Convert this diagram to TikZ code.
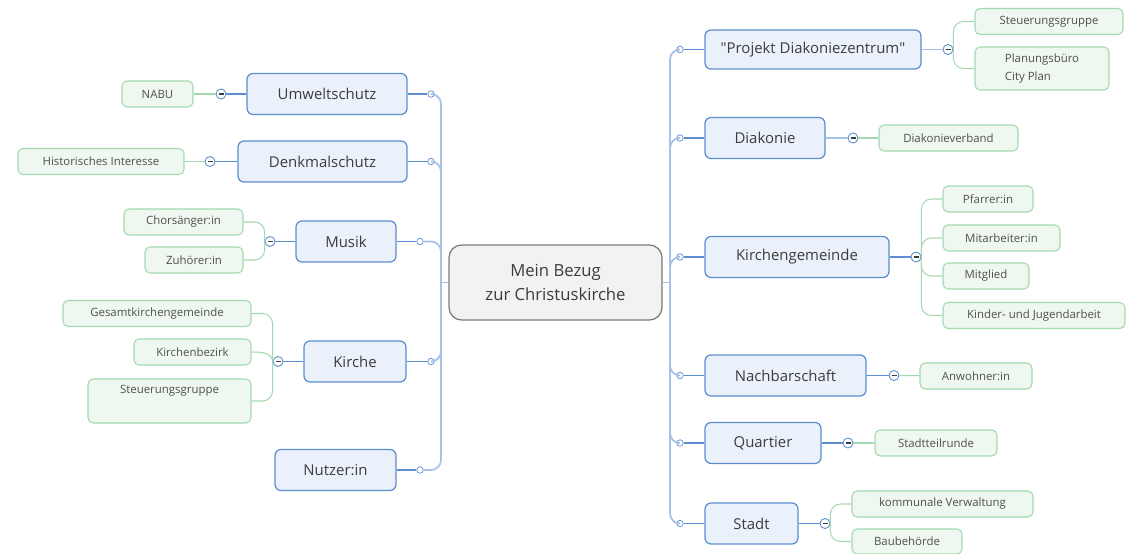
\documentclass[tikz,border=0pt]{standalone}
\usepackage{fontspec}
\setmainfont{Open Sans}
\usetikzlibrary{calc}

\definecolor{topicblue}{HTML}{5B8DCF}
\definecolor{topicfill}{HTML}{EBF1FA}
\definecolor{trunkblue}{HTML}{A6C2E8}
\definecolor{subgreen}{HTML}{A3D9B1}
\definecolor{subfill}{HTML}{EEF7F0}
\definecolor{hubline}{HTML}{7A7A7A}
\definecolor{hubfill}{HTML}{F2F2F2}
\definecolor{inktext}{HTML}{3C3C3C}

\newcommand\topicfont{\fontsize{8.5}{10}\selectfont}
\newcommand\subfont{\fontsize{6.5}{10}\selectfont}
\newcommand\hubfont{\fontsize{9.5}{14}\selectfont}

\tikzset{
  hub/.style={draw=hubline, fill=hubfill, line width=0.7pt, rounded corners=0.25cm,
    minimum width=4.26cm, minimum height=1.5cm, align=center, font=\hubfont, text=inktext},
  topic/.style={draw=topicblue, fill=topicfill, line width=0.7pt, rounded corners=0.12cm,
    minimum height=0.82cm, font=\topicfont, text=inktext},
  subtopic/.style={draw=subgreen, fill=subfill, line width=0.6pt, rounded corners=0.1cm,
    minimum height=0.52cm, font=\subfont, text=inktext!90},
  collapse/.style={circle, draw=topicblue, fill=white, line width=0.5pt, minimum size=0.2cm,
    inner sep=0pt, path picture={\draw[inktext, line width=0.8pt]
      ($(path picture bounding box.center)+(-2.5,0)$) -- ($(path picture bounding box.center)+(2.5,0)$);}},
  dot/.style={circle, draw=topicblue, fill=white, line width=0.4pt, minimum size=0.13cm, inner sep=0pt},
  mainline/.style={draw=topicblue, line width=0.8pt},
  trunkline/.style={draw=trunkblue, line width=1pt, rounded corners=0.2cm},
  subline/.style={draw=subgreen, line width=0.6pt, rounded corners=0.2cm},
}

\begin{document}
\begin{tikzpicture}[x=0.02cm, y=-0.02cm]
\useasboundingbox (0,0) rectangle (1127,554);

% centre
\node[hub] (hub) at (555.5,282.5) {Mein Bezug\\zur Christuskirche};
\coordinate (ljoin) at (441,282.5);
\coordinate (rjoin) at (670,282.5);

% left topics
\node[topic, minimum width=3.2cm]  (umwelt)  at (327,94)  {Umweltschutz};
\node[topic, minimum width=3.38cm] (denkmal) at (322.5,161.5) {Denkmalschutz};
\node[topic, minimum width=2cm]    (musik)   at (346,241.5) {Musik};
\node[topic, minimum width=2.04cm] (kirche)  at (355,361.5) {Kirche};
\node[topic, minimum width=2.42cm] (nutzer)  at (335.5,470) {Nutzer:in};

% right topics
\node[topic, minimum width=4.32cm, minimum height=0.78cm] (projekt) at (813,49.5) {\textquotedbl Projekt Diakoniezentrum\textquotedbl};
\node[topic, minimum width=2.4cm]  (diakonie) at (765,138)   {Diakonie};
\node[topic, minimum width=3.68cm] (kgem)     at (797,257)   {Kirchengemeinde};
\node[topic, minimum width=3.22cm] (nachbar)  at (785.5,375.5) {Nachbarschaft};
\node[topic, minimum width=2.32cm] (quartier) at (763,443)   {Quartier};
\node[topic, minimum width=1.86cm] (stadt)    at (751.5,523.5) {Stadt};

% small dots next to the trunks
\node[dot] (umweltD)  at (431,94) {};
\node[dot] (denkmalD) at (431,161.5) {};
\node[dot] (musikD)   at (420,241.5) {};
\node[dot] (kircheD)  at (431,361.5) {};
\node[dot] (nutzerD)  at (420,470) {};
\node[dot] (projektD)  at (680,49.5) {};
\node[dot] (diakonieD) at (680,138) {};
\node[dot] (kgemD)     at (680,257) {};
\node[dot] (nachbarD)  at (680,375.5) {};
\node[dot] (quartierD) at (680,443) {};
\node[dot] (stadtD)    at (680,523.5) {};

% collapse buttons
\node[collapse] (umweltC)  at (221,94) {};
\node[collapse] (denkmalC) at (210,161.5) {};
\node[collapse] (musikC)   at (270,241.5) {};
\node[collapse] (kircheC)  at (278,361.5) {};
\node[collapse] (projektC)  at (948,49.5) {};
\node[collapse] (diakonieC) at (853,138) {};
\node[collapse] (kgemC)     at (916,257) {};
\node[collapse] (nachbarC)  at (894,375.5) {};
\node[collapse] (quartierC) at (848,443) {};
\node[collapse] (stadtC)    at (825,523.5) {};

% left subtopics
\node[subtopic, minimum width=1.42cm] (nabu)    at (157.5,94)  {NABU};
\node[subtopic, minimum width=3.32cm] (hist)    at (101,161.5) {Historisches Interesse};
\node[subtopic, minimum width=2.38cm] (chor)    at (183.5,222) {Chorsänger:in};
\node[subtopic, minimum width=1.96cm] (zuhoer)  at (194,260)   {Zuhörer:in};
\node[subtopic, minimum width=3.76cm] (gesamt)  at (157,313.5) {Gesamtkirchengemeinde};
\node[subtopic, minimum width=2.34cm] (bezirk)  at (192.5,352) {Kirchenbezirk};
\node[subtopic, minimum width=3.26cm, minimum height=0.88cm, align=center] (steuerL) at (169.5,401) {Steuerungsgruppe\\\strut};

% right subtopics
\node[subtopic, minimum width=2.96cm] (steuerR)  at (1049,21.5) {Steuerungsgruppe};
\node[subtopic, minimum width=2.68cm, minimum height=0.86cm, align=left] (planung) at (1042,68.5) {Planungsbüro\\City Plan};
\node[subtopic, minimum width=2.78cm] (dverband) at (948.5,138) {Diakonieverband};
\node[subtopic, minimum width=1.8cm]  (pfarrer)  at (988,199)   {Pfarrer:in};
\node[subtopic, minimum width=2.34cm] (mitarb)   at (1001.5,238) {Mitarbeiter:in};
\node[subtopic, minimum width=1.72cm] (mitglied) at (986,276)   {Mitglied};
\node[subtopic, minimum width=3.64cm] (kinder)   at (1034,315.5) {Kinder- und Jugendarbeit};
\node[subtopic, minimum width=2.24cm] (anwohner) at (976,376)   {Anwohner:in};
\node[subtopic, minimum width=2.44cm] (runde)    at (936,443)   {Stadtteilrunde};
\node[subtopic, minimum width=3.62cm] (verwalt)  at (942.5,504) {kommunale Verwaltung};
\node[subtopic, minimum width=2.2cm, minimum height=0.5cm] (baubeh) at (907,541.5) {Baubehörde};

% trunks
\draw[trunkline] (hub.west) -- (ljoin);
\draw[trunkline] (hub.east) -- (rjoin);
\foreach \t in {umwelt,denkmal,musik,kirche,nutzer}{
  \draw[mainline] (\t.east) -- (\t D);
  \draw[trunkline] (\t D) -| (ljoin);
}
\foreach \t in {projekt,diakonie,kgem,nachbar,quartier,stadt}{
  \draw[mainline] (\t D) -- (\t.west);
  \draw[trunkline] (\t D) -| (rjoin);
}

% topic to collapse button
\foreach \t in {umwelt,denkmal,musik,kirche}
  \draw[mainline] (\t.west) -- (\t C);
\foreach \t in {projekt,diakonie}
  \draw[trunkline] (\t.east) -- (\t C);
\foreach \t in {kgem,nachbar,quartier,stadt}
  \draw[mainline] (\t.east) -- (\t C);

% left branches
\draw[subline] (umweltC) -- (nabu);
\draw[subline] (denkmalC) -- (hist);
\draw[subline] (musikC.west) |- (chor.east);
\draw[subline] (musikC.west) |- (zuhoer.east);
\draw[subline] (kircheC.west) |- (gesamt.east);
\draw[subline] (kircheC.west) to[out=90, in=0] (bezirk.east);
\draw[subline] (kircheC.west) |- (steuerL.east);

% right branches
\draw[subline] (projektC.east) |- (steuerR.west);
\draw[subline] (projektC.east) |- (planung.west);
\draw[subline] (diakonieC) -- (dverband);
\draw[subline] (kgemC.east) |- (pfarrer.west);
\draw[subline] (kgemC.east) |- (mitarb.west);
\draw[subline] (kgemC.east) |- (mitglied.west);
\draw[subline] (kgemC.east) |- (kinder.west);
\draw[subline] (nachbarC) -- (anwohner);
\draw[subline] (quartierC) -- (runde);
\draw[subline] (stadtC.east) |- (verwalt.west);
\draw[subline] (stadtC.east) |- (baubeh.west);
\end{tikzpicture}
\end{document}
